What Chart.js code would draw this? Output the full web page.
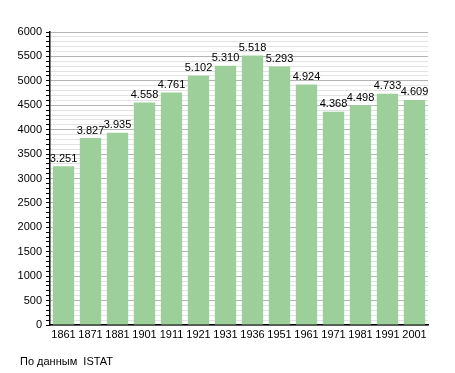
<!DOCTYPE html>
<html>
<head>
<meta charset="utf-8">
<script src="https://cdn.jsdelivr.net/npm/chart.js@4"></script>
<style>
  body { margin: 0; background: #fff; }
  #wrap { position: relative; width: 455px; height: 373px; }
  #fonte { position: absolute; left: 20px; top: 355px; font: 11px "Liberation Sans", Arial, sans-serif; color: #000; }
</style>
</head>
<body>
<div id="wrap">
  <canvas id="grafico" width="455" height="373"></canvas>
  <div id="fonte">По данным&nbsp; ISTAT</div>
</div>
<script>
// anni dei censimenti e popolazione
const anni = ["1861", "1871", "1881", "1901", "1911", "1921", "1931", "1936", "1951", "1961", "1971", "1981", "1991", "2001"];
const abitanti = [3251, 3827, 3935, 4558, 4761, 5102, 5310, 5518, 5293, 4924, 4368, 4498, 4733, 4609];
const tickY = [0, 500, 1000, 1500, 2000, 2500, 3000, 3500, 4000, 4500, 5000, 5500, 6000];

const fonte = "'Liberation Sans', Arial, sans-serif";

function formatta(v) {
  return String(v).replace(/\B(?=(\d{3})+(?!\d))/g, ".");
}

// etichette sopra le barre
const etichette = {
  id: "etichette",
  afterDatasetsDraw(chart) {
    const ctx = chart.ctx;
    const meta = chart.getDatasetMeta(0);
    ctx.save();
    ctx.font = "11px " + fonte;
    ctx.fillStyle = "#000";
    ctx.textAlign = "center";
    ctx.textBaseline = "bottom";
    meta.data.forEach((bar, i) => {
      ctx.fillText(formatta(abitanti[i]), bar.x, bar.y - 2);
    });
    ctx.restore();
  }
};

new Chart(document.getElementById("grafico"), {
  type: "bar",
  data: {
    labels: anni,
    datasets: [{
      data: abitanti,
      backgroundColor: "#9dcf9b",
      barPercentage: 0.79,
      categoryPercentage: 1
    }]
  },
  options: {
    responsive: false,
    animation: false,
    layout: { padding: { left: 0, top: 32, right: 27, bottom: 28 } },
    plugins: { legend: { display: false }, tooltip: { enabled: false } },
    scales: {
      x: {
        grid: { display: false, drawTicks: false },
        border: { color: "#000", width: 1.5 },
        ticks: { color: "#000", font: { size: 11, family: fonte }, padding: 3, maxRotation: 0, autoSkip: false },
        afterFit(s) { s.height = 20; }
      },
      y: {
        min: 0,
        max: 6000,
        ticks: {
          stepSize: 100,
          autoSkip: false,
          color: "#000",
          font: { size: 11, family: fonte },
          padding: 4,
          callback: v => (tickY.includes(v) ? v : "")
        },
        grid: {
          color: c => (c.tick && c.tick.value % 500 === 0 ? "#b4b4b4" : "#e2e2e2"),
          tickColor: "#000",
          tickLength: 4
        },
        border: { color: "#000", width: 1.5 },
        afterFit(s) { s.width = 50; }
      }
    }
  },
  plugins: [etichette]
});
</script>
</body>
</html>
